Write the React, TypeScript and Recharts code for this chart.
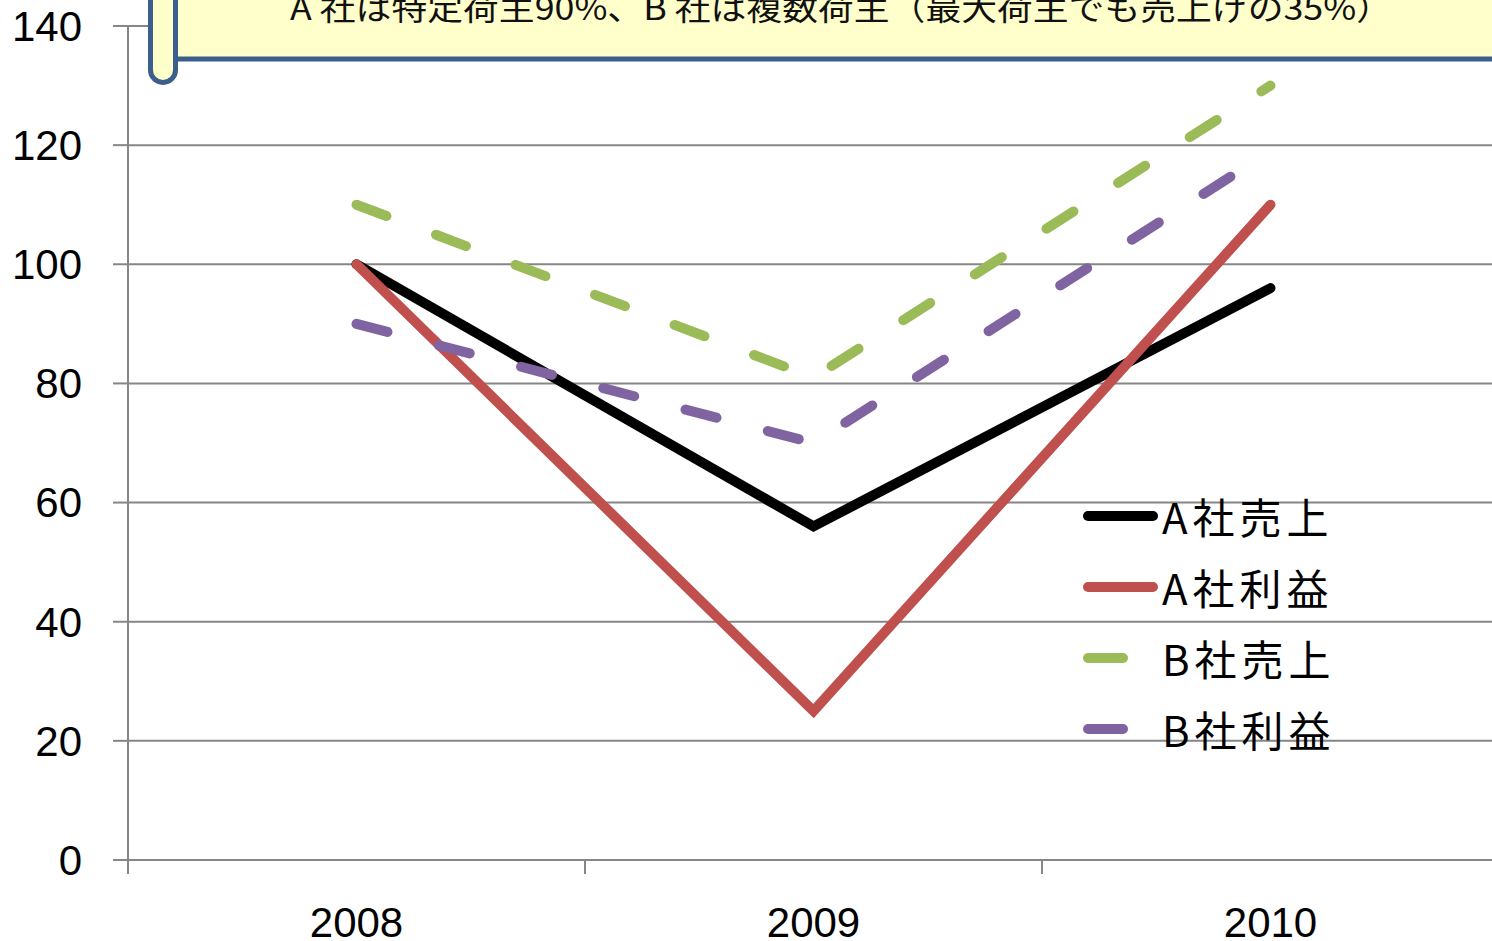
import { CartesianGrid, ComposedChart, Line, XAxis, YAxis } from "recharts";

const years = ["2008", "2009", "2010"];
const aSales = [100, 56, 96];
const aProfit = [100, 25, 110];
const bSales = [110, 81, 130];
const bProfit = [90, 70, 119];
const yTicks = [0, 20, 40, 60, 80, 100, 120, 140];
const title = "A 社は特定荷主90%、B 社は複数荷主（最大荷主でも売上げの35%）";

const series = [
  { key: "aSales", name: "A社売上", color: "#000000", dashed: false },
  { key: "aProfit", name: "A社利益", color: "#C0504D", dashed: false },
  { key: "bSales", name: "B社売上", color: "#9BBB59", dashed: true },
  { key: "bProfit", name: "B社利益", color: "#8064A2", dashed: true },
];

const data = years.map((year, i) => ({
  year,
  aSales: aSales[i],
  aProfit: aProfit[i],
  bSales: bSales[i],
  bProfit: bProfit[i],
}));

const GRID = "#868686";
const NUM_FONT = '"Liberation Sans", Arial, sans-serif';
const JP_FONT = '"Noto Sans CJK JP", sans-serif';

function YearTick(props: any) {
  const { x, y, payload } = props;
  const half = payload?.offset || 228.5;
  const base = y - 47;
  return (
    <g>
      <line x1={x - half} x2={x - half} y1={base} y2={base + 14} stroke={GRID} strokeWidth={2} />
      <text x={x} y={y} dy="0.71em" textAnchor="middle" fill="#000" fontSize={42} fontFamily={NUM_FONT}>
        {payload.value}
      </text>
    </g>
  );
}

function ChartLegend() {
  return (
    <div style={{ position: "absolute", left: 1078, top: 480, fontFamily: JP_FONT }}>
      {series.map((s) => (
        <div key={s.key} style={{ display: "flex", alignItems: "center", height: 71 }}>
          <svg width={84} height={20}>
            <line
              x1={10}
              x2={s.dashed ? 45 : 75}
              y1={10}
              y2={10}
              stroke={s.color}
              strokeWidth={10}
              strokeLinecap="round"
            />
          </svg>
          <span style={{ fontSize: 42, letterSpacing: 5, color: "#000", lineHeight: "71px" }}>{s.name}</span>
        </div>
      ))}
    </div>
  );
}

function Banner() {
  return (
    <svg width={1492} height={90} style={{ position: "absolute", left: 0, top: 0 }}>
      <rect x={175} y={-20} width={1340} height={79} fill="#FFFFCC" stroke="#3B5E8C" strokeWidth={5} />
      <rect x={150.5} y={-30} width={25} height={112.5} rx={12.5} fill="#FFFFCC" stroke="#3B5E8C" strokeWidth={5} />
      <text
        x={290}
        y={20}
        textLength={1102}
        lengthAdjust="spacingAndGlyphs"
        fontSize={32}
        fontFamily={JP_FONT}
        fill="#111"
      >
        {title}
      </text>
    </svg>
  );
}

export default function App() {
  return (
    <div style={{ position: "absolute", left: 0, top: 0, width: 1492, height: 941, background: "#fff", overflow: "hidden" }}>
      <ComposedChart width={1492} height={941} data={data} margin={{ top: 26, right: -7, bottom: 0, left: 0 }}>
        <CartesianGrid vertical={false} stroke={GRID} strokeWidth={2} />
        <XAxis
          dataKey="year"
          scale="band"
          height={81}
          axisLine={{ stroke: GRID, strokeWidth: 2 }}
          tickLine={false}
          tickSize={0}
          tickMargin={47}
          tick={<YearTick />}
          interval={0}
        />
        <YAxis
          width={128}
          domain={[0, 140]}
          ticks={yTicks}
          interval={0}
          tickSize={15}
          tickMargin={31}
          axisLine={{ stroke: GRID, strokeWidth: 2 }}
          tickLine={{ stroke: GRID, strokeWidth: 2 }}
          tick={{ fill: "#000", fontSize: 42, fontFamily: NUM_FONT }}
        />
        {series.map((s) => (
          <Line
            key={s.key}
            type="linear"
            dataKey={s.key}
            name={s.name}
            stroke={s.color}
            strokeWidth={10}
            strokeLinecap="round"
            strokeDasharray={s.dashed ? "32 53" : undefined}
            dot={false}
            activeDot={false}
            isAnimationActive={false}
          />
        ))}
      </ComposedChart>
      <Banner />
      <ChartLegend />
    </div>
  );
}
